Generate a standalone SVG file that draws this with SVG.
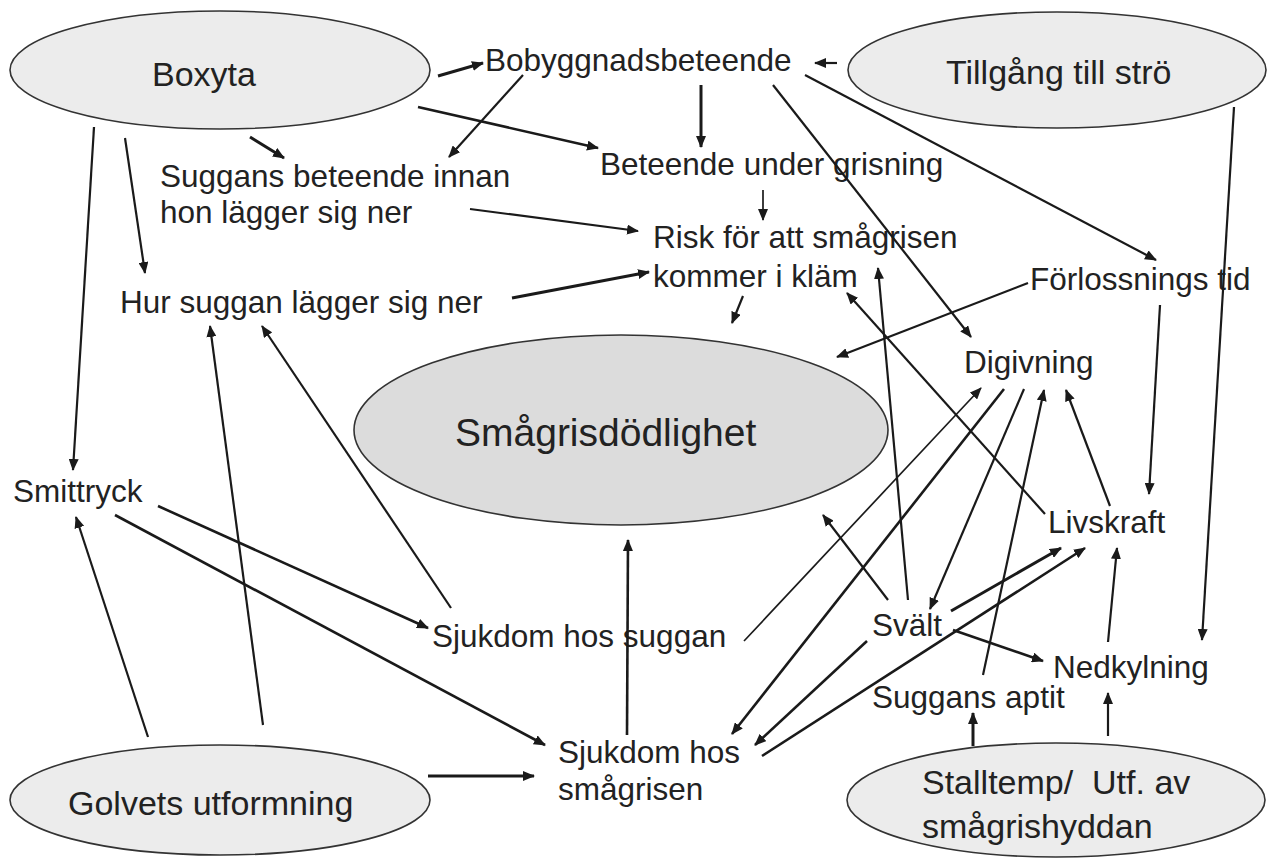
<svg xmlns="http://www.w3.org/2000/svg" width="1268" height="858" viewBox="0 0 1268 858">
<style>
.bg{fill:#ffffff}
.ell{fill:#ececec;stroke:#333;stroke-width:1.6}
.ell2{fill:#dcdcdc;stroke:#333;stroke-width:1.6}
text{font-family:"Liberation Sans",Arial,sans-serif;font-size:31.5px;fill:#222}
.big{font-size:39px}
.lab{font-size:34px}
.c line{stroke:#1a1a1a;stroke-width:2.2;marker-end:url(#ah)}
.c line.t{stroke-width:3}
.c line.m{stroke-width:2.6}
.c line.n{stroke-width:1.7}
</style>
<defs>
<marker id="ah" viewBox="0 0 12 10" refX="11" refY="5" markerWidth="12" markerHeight="10" markerUnits="userSpaceOnUse" orient="auto">
<path d="M0,0 L12,5 L0,10 z" fill="#1a1a1a"/>
</marker>
</defs>
<rect class="bg" x="0" y="0" width="1268" height="858"/>

<g id="boxyta"><ellipse class="ell" cx="220" cy="70" rx="210" ry="59"/><text class="lab" x="152" y="86">Boxyta</text></g>
<g id="tillgang"><ellipse class="ell" cx="1057" cy="70" rx="209" ry="58"/><text class="lab" x="946" y="84">Tillgång till strö</text></g>
<g id="smagrisdodlighet"><ellipse class="ell2" cx="621" cy="430" rx="267" ry="95"/><text class="big" x="455" y="446">Smågrisdödlighet</text></g>
<g id="golvets"><ellipse class="ell" cx="220" cy="800" rx="210" ry="55"/><text class="lab" x="68" y="815">Golvets utformning</text></g>
<g id="stalltemp"><ellipse class="ell" cx="1056" cy="800" rx="209" ry="57"/><text class="lab" x="922" y="794" xml:space="preserve">Stalltemp/  Utf. av</text><text class="lab" x="922" y="838">smågrishyddan</text></g>

<g id="bobyggnad"><text x="485" y="71">Bobyggnadsbeteende</text></g>
<g id="suggans-beteende"><text x="160" y="187">Suggans beteende innan</text><text x="160" y="223">hon lägger sig ner</text></g>
<g id="beteende-grisning"><text x="600" y="175">Beteende under grisning</text></g>
<g id="risk"><text x="653" y="248">Risk för att smågrisen</text><text x="653" y="287">kommer i kläm</text></g>
<g id="hur-suggan"><text x="120" y="313">Hur suggan lägger sig ner</text></g>
<g id="forlossning"><text x="1030" y="290">Förlossnings tid</text></g>
<g id="digivning"><text x="964" y="373">Digivning</text></g>
<g id="smittryck"><text x="13" y="502">Smittryck</text></g>
<g id="livskraft"><text x="1048" y="533">Livskraft</text></g>
<g id="sjukdom-suggan"><text x="432" y="647">Sjukdom hos suggan</text></g>
<g id="svalt"><text x="872" y="636">Svält</text></g>
<g id="nedkylning"><text x="1053" y="678">Nedkylning</text></g>
<g id="suggans-aptit"><text x="872" y="708">Suggans aptit</text></g>
<g id="sjukdom-smagrisen"><text x="558" y="763">Sjukdom hos</text><text x="558" y="800">smågrisen</text></g>

<g id="connectors" class="c">
<line class="t" x1="438" y1="76" x2="483" y2="63"/>
<line class="t" x1="250" y1="137" x2="284" y2="158"/>
<line class="m" x1="418" y1="107" x2="598" y2="148"/>
<line x1="94" y1="127" x2="73" y2="470"/>
<line x1="125" y1="138" x2="145" y2="273"/>
<line x1="523" y1="75" x2="449" y2="157"/>
<line class="t" x1="701" y1="85" x2="701" y2="147"/>
<line x1="773" y1="85" x2="971" y2="337"/>
<line x1="805" y1="75" x2="1156" y2="260"/>
<line x1="837" y1="63" x2="815" y2="63"/>
<line x1="1234" y1="107" x2="1202" y2="640"/>
<line class="n" x1="763" y1="190" x2="763" y2="220"/>
<line x1="470" y1="209" x2="638" y2="231"/>
<line class="t" x1="512" y1="298" x2="649" y2="272"/>
<line x1="743" y1="296" x2="732" y2="323"/>
<line x1="1028" y1="283" x2="837" y2="357"/>
<line x1="1160" y1="305" x2="1149" y2="494"/>
<line x1="1045" y1="514" x2="847" y2="293"/>
<line x1="908" y1="600" x2="878" y2="268"/>
<line x1="888" y1="600" x2="823" y2="515"/>
<line class="n" x1="744" y1="641" x2="981" y2="388"/>
<line class="m" x1="1004" y1="389" x2="732" y2="734"/>
<line x1="1024" y1="389" x2="930" y2="609"/>
<line x1="983" y1="675" x2="1044" y2="390"/>
<line x1="1110" y1="506" x2="1066" y2="390"/>
<line class="m" x1="867" y1="641" x2="755" y2="745"/>
<line class="t" x1="951" y1="611" x2="1061" y2="548"/>
<line class="m" x1="762" y1="756" x2="1085" y2="548"/>
<line class="m" x1="953" y1="630" x2="1043" y2="661"/>
<line x1="1108" y1="642" x2="1117" y2="548"/>
<line class="t" x1="973" y1="746" x2="973" y2="713"/>
<line x1="1108" y1="736" x2="1108" y2="693"/>
<line class="m" x1="158" y1="506" x2="428" y2="628"/>
<line class="m" x1="115" y1="515" x2="545" y2="745"/>
<line x1="148" y1="737" x2="76" y2="517"/>
<line x1="263" y1="725" x2="210" y2="326"/>
<line x1="451" y1="608" x2="262" y2="326"/>
<line class="t" x1="428" y1="776" x2="534" y2="776"/>
<line class="m" x1="627" y1="735" x2="628" y2="540"/>
</g>
</svg>
